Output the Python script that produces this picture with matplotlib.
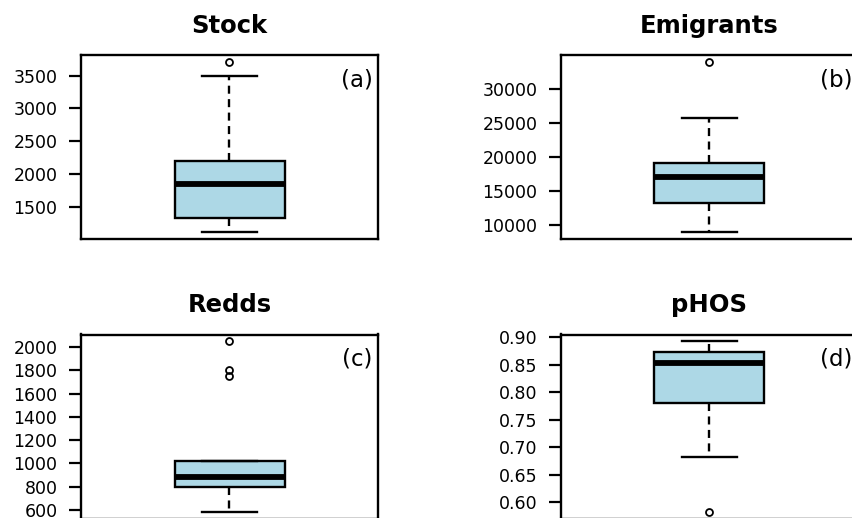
import matplotlib
matplotlib.use("Agg")
import matplotlib.pyplot as plt
import numpy as np

# panel titles, corner labels and y ticks
titles = ["Stock", "Emigrants", "Redds", "pHOS"]
tags = ["(a)", "(b)", "(c)", "(d)"]
yticks = [
    [1500, 2000, 2500, 3000, 3500],
    [10000, 15000, 20000, 25000, 30000],
    [600, 800, 1000, 1200, 1400, 1600, 1800, 2000],
    [0.60, 0.65, 0.70, 0.75, 0.80, 0.85, 0.90],
]
tick_fmt = ["{:.0f}", "{:.0f}", "{:.0f}", "{:.2f}"]

# box summaries
whislo = [1110, 8950, 585, 0.683]
q1 = [1325, 13200, 800, 0.781]
med = [1840, 17050, 880, 0.853]
q3 = [2200, 19150, 1025, 0.873]
whishi = [3500, 25700, 1025, 0.893]
fliers = [[3710], [33950], [1750, 1805, 2050], [0.583]]

W, H = 853, 518
fig = plt.figure(figsize=(W / 100, H / 100), dpi=100)

# pixel boxes (left, top) of each panel; right/bottom panels run off the edge
aw, ah = 297, 184
corners = [(81, 55), (561, 55), (81, 334.5), (561, 334.5)]

for i in range(4):
    left, top = corners[i]
    ax = fig.add_axes([left / W, 1 - (top + ah) / H, aw / W, ah / H])

    stats = [dict(med=med[i], q1=q1[i], q3=q3[i], whislo=whislo[i],
                  whishi=whishi[i], fliers=fliers[i])]
    ax.bxp(stats, positions=[1], widths=0.4, capwidths=0.2,
           patch_artist=True,
           boxprops=dict(facecolor="#ADD8E6", edgecolor="black", linewidth=1.7),
           medianprops=dict(color="black", linewidth=4.2, solid_capstyle="butt"),
           whiskerprops=dict(color="black", linewidth=1.7, linestyle=(0, (3.4, 2.3))),
           capprops=dict(color="black", linewidth=1.7),
           flierprops=dict(marker="o", markersize=5, markerfacecolor="none",
                           markeredgecolor="black", markeredgewidth=1.3))

    # R style limits: data range padded by 4%
    vals = [whislo[i], whishi[i]] + fliers[i]
    lo, hi = min(vals), max(vals)
    pad = 0.04 * (hi - lo)
    ax.set_ylim(lo - pad, hi + pad)
    ax.set_xlim(0.46, 1.54)

    ax.set_xticks([])
    ax.set_yticks(yticks[i])
    ax.set_yticklabels([tick_fmt[i].format(v) for v in yticks[i]])
    ax.tick_params(axis="y", direction="out", length=8.5, width=1.6,
                   pad=8.5, labelsize=12.5)
    for sp in ax.spines.values():
        sp.set_linewidth(1.7)

    ax.set_title(titles[i], fontsize=17.5, fontweight="bold", pad=16)
    ax.annotate(tags[i], xy=(1, 1), xycoords="axes fraction",
                xytext=(-4, -9.5), textcoords="offset points",
                ha="right", va="top", fontsize=16.5)

fig.savefig("out.png", dpi=100)
